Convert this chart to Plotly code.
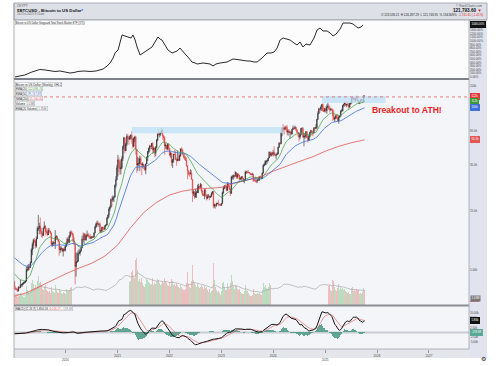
import numpy as np
import pandas as pd
import plotly.graph_objects as go

W, H = 500, 366
def px(x): return x / W
def py(y): return 1 - y / H

# ---------------- data ----------------
week_start = "2019-01-07"
first_open_k = 4.05

close_k = (
    [3.55,3.54,3.53,3.41,3.66,3.62,3.82,3.85,3.89,3.99,3.99,4.10,5.05,5.07,5.30,5.27,5.75,7.25,8.00,8.70,8.55,7.80,8.90,10.8,10.8,11.3,10.2,9.8,9.5,10.8,11.3,10.2,10.1,9.6,10.4,10.3,9.9,8.05,8.2,8.3,8.2,9.2,9.3,8.8,8.5,7.3,7.4,7.5,7.1,7.4,7.2,7.75]
  + [8.18,8.90,8.35,9.35,10.15,9.90,9.65,8.55,8.05,5.35,5.82,5.88,6.78,6.90,7.12,7.55,8.90,8.75,9.67,8.72,9.45,9.67,9.34,9.30,9.00,9.07,9.30,9.20,9.93,11.1,11.68,11.9,11.68,11.7,10.25,10.33,11.08,10.73,10.67,11.38,11.5,13.03,13.8,15.48,15.97,18.4,18.2,19.15,19.27,23.85,26.5,33.0]
  + [38.2,36.0,32.3,33.1,39.0,48.6,57.5,45.2,51.0,59.0,57.4,55.8,58.9,60.0,56.2,49.0,56.6,58.2,46.4,34.7,35.7,35.8,39.1,35.5,34.7,35.3,33.8,31.8,35.4,39.9,44.6,47.0,49.3,48.9,51.8,46.0,47.3,43.2,48.2,54.9,61.5,61.0,61.3,63.3,65.5,59.7,57.3,49.4,50.1,46.7,50.8,47.3]
  + [41.8,43.1,36.3,38.2,42.4,42.2,38.4,37.7,38.8,37.8,41.3,46.8,45.8,42.2,40.4,39.5,37.7,34.3,31.3,29.4,29.4,29.9,26.6,20.6,21.0,19.3,20.8,20.8,22.6,23.3,23.2,24.3,21.5,20.0,19.8,21.8,20.1,18.8,19.3,19.4,19.2,19.6,20.6,21.3,16.3,16.7,16.5,17.1,17.1,16.8,16.8,16.5]
  + [17.1,20.9,22.7,23.8,23.3,21.8,24.6,23.5,22.2,20.6,27.9,27.9,28.5,28.3,30.3,27.8,29.2,28.9,26.8,27.1,28.1,27.2,25.8,26.5,30.5,30.6,30.3,30.3,29.9,29.3,29.1,29.4,26.1,26.1,25.9,25.8,26.5,26.2,28.0,27.9,27.1,29.9,34.5,35.0,37.1,37.4,37.5,39.5,44.0,41.4,43.0,42.3]
  + [43.9,41.7,41.6,42.0,42.6,48.3,52.1,51.7,63.1,68.9,68.4,67.2,69.6,69.4,63.4,64.9,63.4,63.8,61.5,67.0,68.5,67.8,69.6,66.6,63.2,62.7,58.0,60.8,68.2,68.2,58.2,58.7,58.9,64.2,57.3,54.8,59.1,63.6,65.6,62.8,62.8,69.0,68.4,69.3,80.4,89.8,97.8,97.2,101.2,106.1,95.2,93.7,98.3]
  + [94.5,101.3,102.6,97.7,96.5,97.5,96.3,86.1,80.7,82.6,86.1,82.4,78.4,83.7,85.2,93.7,94.3,104.6,106.5,109.0,104.6,105.7,105.5,100.9,108.4,109.2,119.1,117.3,119.4,114.2,119.3,117.4,113.5,108.3,111.1,115.3,115.3,112.2,123.5,121.8]
)
high_k = (
    [4.10,3.72,3.62,3.56,3.72,3.70,4.20,3.90,3.97,4.02,4.10,4.15,5.35,5.47,5.61,5.60,5.90,7.50,8.35,8.95,9.08,8.80,9.30,11.2,13.85,12.0,13.2,10.9,10.2,11.0,12.3,11.5,10.95,10.6,10.9,10.9,10.3,10.1,8.5,8.6,8.4,10.5,9.55,9.4,8.9,8.55,7.8,7.75,7.45,7.5,7.65,7.9]
  + [8.45,9.2,8.95,9.6,10.2,10.5,10.2,9.9,9.2,8.2,6.9,6.95,7.2,7.45,7.3,7.75,9.45,10.05,9.95,9.9,9.6,10.4,9.95,9.6,9.8,9.35,9.4,9.25,10.0,11.4,12.05,12.45,12.45,11.8,12.1,10.55,11.15,11.1,10.95,11.45,11.7,13.35,14.0,15.95,16.5,18.8,19.5,19.9,19.4,24.3,28.3,34.8]
  + [41.9,40.1,37.8,38.5,40.9,49.7,58.3,57.5,52.4,61.7,61.0,58.4,60.0,61.2,64.9,56.8,57.9,59.5,59.6,46.4,40.4,39.3,41.3,41.0,36.0,36.6,35.0,34.5,35.6,40.9,45.0,48.1,50.5,50.0,52.0,52.9,48.8,47.5,49.2,56.1,62.9,67.0,63.7,64.3,69.0,66.5,59.4,59.0,51.9,50.1,51.9,52.1]
  + [47.5,44.4,43.5,38.9,42.6,45.8,44.7,39.8,45.4,42.5,42.3,47.0,48.2,47.0,41.5,42.9,40.8,40.0,34.2,31.4,30.6,32.2,31.6,26.9,21.8,21.5,22.5,21.5,24.2,24.6,23.6,25.0,24.4,21.8,20.5,22.5,22.7,19.7,20.2,20.4,19.9,19.7,21.0,21.5,21.4,17.1,16.8,17.4,17.4,18.4,17.0,16.9]
  + [17.2,21.3,23.4,23.9,24.3,23.4,25.3,25.2,23.9,22.6,28.4,28.9,29.2,28.8,31.0,30.5,30.0,29.8,29.0,27.6,28.2,28.4,27.3,26.8,31.4,31.0,31.4,31.8,30.4,29.8,29.7,30.1,29.5,26.8,28.1,26.0,27.0,27.5,28.1,28.6,27.9,30.3,35.2,35.9,37.9,37.9,38.4,39.7,44.7,44.0,44.4,43.8]
  + [45.9,49.0,43.6,42.8,43.9,48.6,52.8,52.9,64.0,69.2,73.8,68.9,71.7,71.3,72.8,66.9,67.2,64.7,65.5,67.5,71.9,70.0,71.9,70.2,66.9,63.4,63.8,61.4,68.3,69.4,70.0,62.7,61.8,65.0,64.5,59.8,60.6,64.1,66.5,65.0,64.4,69.5,69.4,73.6,81.5,93.5,99.6,98.7,104.0,106.5,108.3,99.9,98.9]
  + [102.7,106.4,109.6,106.4,102.5,98.8,99.5,96.5,95.0,84.5,87.4,88.8,88.5,86.1,86.5,95.8,97.9,104.9,107.1,111.9,110.7,106.8,110.5,108.9,108.5,110.6,119.5,123.2,120.2,119.3,119.5,124.5,117.6,113.5,113.3,116.8,117.9,115.3,125.7,126.2]
)
low_k = (
    [3.50,3.47,3.45,3.35,3.39,3.57,3.60,3.70,3.69,3.82,3.90,3.94,4.05,4.90,4.95,5.05,5.20,5.70,6.60,7.40,8.30,7.45,7.55,8.90,10.3,9.70,9.70,9.20,9.10,9.40,10.8,9.50,9.80,9.35,9.60,10.0,9.70,7.85,7.70,7.90,7.95,7.40,8.75,8.70,8.40,6.53,6.85,7.15,7.00,6.45,7.10,7.05]
  + [7.65,8.05,8.25,8.25,9.1,9.7,9.3,8.45,8.0,3.85,4.45,5.7,5.9,6.75,6.55,7.05,7.55,8.4,8.1,8.8,8.6,9.2,9.2,9.0,8.85,8.95,9.05,9.05,9.15,9.9,10.9,11.15,11.45,11.1,9.9,9.9,10.2,10.1,10.55,10.5,11.2,11.45,12.9,13.2,14.85,15.9,16.2,17.6,17.65,19.1,22.9,26.3]
  + [28.2,30.4,28.9,29.3,32.3,37.4,46.0,43.0,44.9,49.3,53.3,50.4,55.5,55.5,51.5,47.0,48.0,53.0,42.0,30.0,31.2,34.0,31.0,34.8,28.8,32.7,32.1,31.1,29.3,35.5,37.5,42.8,43.9,46.4,46.5,42.8,43.4,40.1,40.8,47.1,53.9,59.5,57.8,59.4,62.3,55.6,53.3,42.0,46.8,45.5,45.6,45.7]
  + [40.6,39.7,34.0,32.9,36.3,41.7,38.0,34.3,37.2,37.2,37.6,40.5,44.3,41.9,39.2,38.2,37.6,33.7,26.7,28.7,28.0,29.3,26.6,17.6,19.7,18.6,19.0,18.9,20.8,20.7,22.4,22.7,20.8,19.6,19.6,18.5,19.4,18.1,18.5,19.1,18.2,18.9,19.2,20.1,15.6,15.8,15.5,16.1,16.9,16.3,16.4,16.4]
  + [16.5,17.1,20.4,22.3,22.6,21.4,21.5,22.8,21.9,19.6,20.5,26.6,26.5,27.2,28.0,27.0,26.9,27.7,25.8,26.4,26.1,26.6,25.4,24.8,26.3,29.5,29.7,30.0,29.5,28.9,28.7,28.8,25.4,25.8,25.4,24.9,24.9,26.0,26.0,27.2,26.6,26.9,29.8,33.9,34.5,34.8,35.6,37.2,39.5,40.3,40.6,41.5]
  + [40.8,41.5,40.6,38.5,41.9,42.3,47.7,50.6,50.9,59.0,64.6,60.8,66.4,64.5,60.7,59.7,62.4,56.6,60.2,60.8,66.7,66.6,67.6,65.1,63.0,58.4,53.5,55.7,59.8,63.5,57.3,49.0,56.1,57.8,57.2,52.6,54.6,57.6,62.7,59.8,58.9,62.5,65.1,67.5,66.8,80.2,89.3,90.8,94.5,94.2,92.2,92.5,91.5]
  + [91.2,89.3,99.5,96.2,91.2,94.1,93.4,78.2,80.0,76.6,81.2,81.6,77.2,74.4,83.1,85.1,92.8,93.4,100.8,102.1,103.1,100.4,102.7,98.3,99.6,105.2,107.5,115.7,114.7,111.9,112.6,116.8,110.6,107.3,107.3,110.6,114.4,108.6,111.5,121.2]
)
volume_rel = (
    [22,20,18,17,19,18,24,20,18,17,16,19,38,30,26,24,28,45,50,42,35,40,34,48,58,44,46,38,32,30,36,40,30,28,26,28,25,36,28,26,24,40,30,26,24,32,28,24,22,26,24,22]
  + [32,30,28,30,34,36,32,38,34,62,48,40,36,32,30,30,40,46,42,36,30,32,28,26,24,22,22,20,26,44,38,36,32,28,34,28,26,24,22,26,28,36,38,44,42,48,50,46,40,52,60,70]
  + [82,72,60,55,62,75,80,78,60,62,55,50,46,48,66,70,58,55,90,95,70,48,52,46,54,44,38,36,42,52,50,46,44,40,42,55,40,44,42,48,52,50,44,40,42,46,44,54,48,44,40,38]
  + [46,38,52,48,40,42,38,44,40,36,34,40,36,32,30,30,32,44,66,42,36,34,48,80,50,44,40,36,42,38,34,36,40,36,32,38,34,36,30,26,32,24,28,30,85,50,36,30,26,28,24,20]
  + [28,44,46,36,30,30,44,36,32,45,60,48,38,32,40,38,32,30,32,26,24,22,22,28,40,30,28,24,20,18,18,20,32,24,22,22,24,22,24,22,20,30,44,36,40,34,32,36,44,40,36,28]
  + [34,48,30,32,28,40,44,32,56,58,62,52,40,34,46,40,32,42,34,36,32,28,30,28,30,34,42,34,40,30,38,56,34,32,30,34,30,28,26,24,26,32,28,34,54,62,56,44,46,44,52,40,34]
  + [36,42,40,38,40,30,28,50,48,36,30,28,34,42,30,36,32,34,30,32,28,26,24,26,22,22,34,36,28,30,28,32,30,30,22,24,22,26,34,30]
)

perf_dates = ["2019-01-11","2019-02-15","2019-03-21","2019-05-10","2019-06-07","2019-07-05","2019-08-10","2019-09-14","2019-10-19","2019-11-23",
              "2020-01-05","2020-02-02","2020-03-01","2020-03-29","2020-05-11","2020-06-22","2020-08-04","2020-09-22","2020-10-20","2020-11-10",
              "2020-12-01","2020-12-15","2021-01-05","2021-01-19","2021-02-02","2021-02-23","2021-03-16","2021-04-06","2021-04-20","2021-05-05",
              "2021-05-19","2021-06-09","2021-06-30","2021-07-28","2021-08-18","2021-09-01","2021-09-22","2021-10-13","2021-10-27","2021-11-10",
              "2021-12-01","2021-12-22","2022-01-20","2022-02-10","2022-02-24","2022-03-17","2022-04-07","2022-04-28","2022-05-12","2022-06-09",
              "2022-07-01","2022-07-15","2022-08-05","2022-08-26","2022-09-23","2022-10-14","2022-11-04","2022-11-25","2022-12-24","2023-01-21",
              "2023-02-11","2023-03-04","2023-03-25","2023-04-22","2023-05-13","2023-06-10","2023-07-01","2023-07-22","2023-08-19","2023-09-10",
              "2023-10-01","2023-10-15","2023-11-05","2023-11-19","2023-12-17","2024-01-08","2024-01-29","2024-02-19","2024-03-11","2024-04-08",
              "2024-04-29","2024-05-27","2024-06-17","2024-07-08","2024-07-29","2024-08-19","2024-09-16","2024-10-15","2024-11-05","2024-11-26",
              "2024-12-17","2025-01-15","2025-02-05","2025-02-26","2025-03-19","2025-04-16","2025-05-07","2025-06-04","2025-06-25","2025-07-16",
              "2025-08-06","2025-08-20","2025-09-10","2025-09-25"]
perf_pct = [0,28,56,139,181,209,195,175,153,167,
            139,111,125,153,167,153,167,222,306,389,
            528,667,751,973,1168,1140,1112,1084,1168,1029,
            834,612,667,751,806,834,973,1112,1056,1029,
            890,751,667,695,723,806,695,612,556,417,
            389,361,375,389,375,361,306,361,389,403,
            417,459,500,487,473,445,445,445,417,417,
            473,528,612,667,667,695,806,1029,1084,1056,
            1029,945,890,973,834,917,890,1084,1307,1362,
            1279,1279,1223,1140,1195,1335,1501,1501,1501,1473,
            1418,1362,1390,1446]

sma200_dates = ["2019-01-07","2019-04-01","2019-07-01","2019-10-07","2020-01-06","2020-04-06","2020-07-06","2020-10-05",
                "2021-01-04","2021-04-05","2021-07-05","2021-10-04","2022-01-03","2022-04-04","2022-07-04","2022-10-03",
                "2023-01-02","2023-04-03","2023-07-03","2023-10-02","2024-01-01","2024-04-01","2024-07-01","2024-10-07",
                "2025-01-06","2025-04-07","2025-07-07","2025-10-06"]
sma200_k = [3.1,3.3,3.7,4.2,4.7,5.2,5.7,6.5,8.0,11.0,14.5,17.5,20.0,21.5,22.3,22.6,
            23.0,24.8,26.5,28.0,31.0,34.0,37.0,40.5,45.0,49.0,52.5,55.2]

zone_dates = [["2021-04-12", "2024-03-11"], ["2024-12-09", "2026-03-02"]]
zone_low_k = [62.5, 109.0]
zone_high_k = [70.0, 124.0]

ema20_start, ema50_start = 4800.0, 6400.0
ema12_start, ema26_start, signal_start = 4300.0, 5000.0, -800.0

year_ticks = ["2020-01-01","2021-01-01","2022-01-01","2023-01-01","2024-01-01","2025-01-01","2026-01-01","2027-01-01"]
year_labels = ["<br>2020","2021","2022","2023","2024","<br>2025","2026","2027"]
perf_ticks = [0,100,200,300,400,500,600,700,800,900,1000,1100,1200,1300,1500]
price_ticks = [5000, 15000, 35000, 65000, 150000]
price_labels = ["5.00k", "15.0k", "35.0k", "65.0k", "150k"]
macd_ticks = [-5000, -2500, 2500, 7500, 10000]
macd_labels = ["-5.00k", "-2.50k", "2.50k", "7.50k", "10.00k"]

n = len(close_k)
assert len(high_k) == n and len(low_k) == n and len(volume_rel) == n, (n, len(high_k), len(low_k), len(volume_rel))
assert len(perf_dates) == len(perf_pct) and len(sma200_dates) == len(sma200_k)

# ---------------- derived series ----------------
dates = pd.date_range(week_start, periods=n, freq="7D")
close = np.array(close_k) * 1000
open_ = np.concatenate([[first_open_k * 1000], close[:-1]])
high = np.maximum(np.array(high_k) * 1000, np.maximum(open_, close))
low = np.minimum(np.array(low_k) * 1000, np.minimum(open_, close))
vol = np.array(volume_rel, dtype=float)

def ema(values, span, seed):
    a = 2.0 / (span + 1)
    out, prev = [], seed
    for v in values:
        prev = prev + a * (v - prev)
        out.append(prev)
    return np.array(out)

ema20 = ema(close, 20, ema20_start)
ema50 = ema(close, 50, ema50_start)
vol_ema = ema(vol, 20, vol[0])
macd = ema(close, 12, ema12_start) - ema(close, 26, ema26_start)
signal = ema(macd, 9, signal_start)
hist = macd - signal
up = close >= open_

X0, X1 = "2019-01-04", "2027-10-10"
FONT = "Liberation Sans, Arial, sans-serif"
GREEN, BLUE, RED = "#3c9a3c", "#3f6fd8", "#e45555"

fig = go.Figure()

fig.add_trace(go.Scatter(x=perf_dates, y=perf_pct, mode="lines", line=dict(color="#111", width=0.9),
                         xaxis="x", yaxis="y", hoverinfo="skip", showlegend=False))

fig.add_trace(go.Bar(x=dates, y=vol, width=5 * 86400000,
                     marker=dict(color=["rgba(120,190,120,0.45)" if u else "rgba(236,120,120,0.45)" for u in up], line=dict(width=0)),
                     xaxis="x", yaxis="y2", hoverinfo="skip", showlegend=False))
fig.add_trace(go.Scatter(x=dates, y=vol_ema, mode="lines", line=dict(color="#aaa", width=0.7),
                         xaxis="x", yaxis="y2", hoverinfo="skip", showlegend=False))

for (d0, d1), lo, hi in zip(zone_dates, zone_low_k, zone_high_k):
    fig.add_trace(go.Scatter(x=[d0, d1, d1, d0, d0], y=[lo * 1000, lo * 1000, hi * 1000, hi * 1000, lo * 1000],
                             fill="toself", fillcolor="rgba(190,225,245,0.75)", mode="lines", line=dict(width=0),
                             xaxis="x", yaxis="y4", hoverinfo="skip", showlegend=False))

fig.add_trace(go.Scatter(x=[X0, X1], y=[close[-1], close[-1]], mode="lines",
                         line=dict(color="#e84848", width=0.7, dash="dot"),
                         xaxis="x", yaxis="y4", hoverinfo="skip", showlegend=False))

fig.add_trace(go.Scatter(x=sma200_dates, y=np.array(sma200_k) * 1000, mode="lines", line=dict(color=RED, width=0.8),
                         xaxis="x", yaxis="y4", hoverinfo="skip", showlegend=False))
fig.add_trace(go.Scatter(x=dates, y=ema50, mode="lines", line=dict(color=BLUE, width=0.8),
                         xaxis="x", yaxis="y4", hoverinfo="skip", showlegend=False))
fig.add_trace(go.Scatter(x=dates, y=ema20, mode="lines", line=dict(color=GREEN, width=0.7),
                         xaxis="x", yaxis="y4", hoverinfo="skip", showlegend=False))

fig.add_trace(go.Candlestick(x=dates, open=open_, high=high, low=low, close=close,
                             increasing=dict(line=dict(color="#222", width=0.6), fillcolor="#555"),
                             decreasing=dict(line=dict(color="#e33a3a", width=0.6), fillcolor="#e33a3a"),
                             whiskerwidth=0, xaxis="x", yaxis="y4", hoverinfo="skip", showlegend=False))

fig.add_trace(go.Bar(x=dates, y=hist, width=7 * 86400000, marker=dict(color="rgba(72,150,128,0.85)", line=dict(width=0)),
                     xaxis="x", yaxis="y3", hoverinfo="skip", showlegend=False))
fig.add_trace(go.Scatter(x=dates, y=signal, mode="lines", line=dict(color="#e07070", width=0.7),
                         xaxis="x", yaxis="y3", hoverinfo="skip", showlegend=False))
fig.add_trace(go.Scatter(x=dates, y=macd, mode="lines", line=dict(color="#111", width=1.0),
                         xaxis="x", yaxis="y3", hoverinfo="skip", showlegend=False))

# ---------------- shapes ----------------
def rect(x0, y0, x1, y1, fill, line_color=None, lw=0):
    return dict(type="rect", xref="paper", yref="paper", x0=px(x0), x1=px(x1), y0=py(y1), y1=py(y0),
                fillcolor=fill, line=dict(color=line_color or fill, width=lw), layer="below")

def hline(x0, x1, y, color, w):
    return dict(type="line", xref="paper", yref="paper", x0=px(x0), x1=px(x1), y0=py(y), y1=py(y),
                line=dict(color=color, width=w), layer="above")

def vline(x, y0, y1, color, w):
    return dict(type="line", xref="paper", yref="paper", x0=px(x), x1=px(x), y0=py(y0), y1=py(y1),
                line=dict(color=color, width=w), layer="above")

shapes = [
    rect(14, 3, 487, 20, "#dde0e7", "#9a9da5", 0.8),
    rect(469, 20, 487, 358, "#e1e4ee"),
    rect(14, 20, 469, 78, "#fcfcfd"),
    rect(14, 80, 469, 305, "#f3f5f9"),
    rect(14, 306, 469, 349, "#f4f5f9"),
    rect(14, 349, 469, 358, "#e4e6ec"),
    hline(14, 487, 20, "#9a9da5", 0.8),
    hline(14, 469, 79, "#7d8088", 2),
    hline(14, 469, 305.5, "#8a8d94", 2),
    hline(14, 469, 349, "#a0a3aa", 0.8),
    vline(14, 3, 358, "#9a9da5", 0.8),
    vline(469, 20, 349, "#a0a3aa", 0.8),
    dict(type="line", xref="x", yref="y3", x0=X0, x1=X1, y0=0, y1=0, line=dict(color="#c8ccd4", width=2), layer="below"),
    hline(470, 479, 301.2, "#e33a3a", 1),
]

# ---------------- annotations ----------------
ann = []
def txt(x, y, s, size, color="#222", xanchor="left", bold=False, **kw):
    if bold:
        s = "<b>" + s + "</b>"
    ann.append(dict(x=px(x), y=py(y), xref="paper", yref="paper", text=s, showarrow=False,
                    xanchor=xanchor, yanchor="middle", font=dict(size=size, color=color, family=FONT), **kw))

def box(x, y, s, size=2.9, color="#222"):
    txt(x, y, s, size, color, bgcolor="rgba(255,255,255,0.95)", bordercolor="#9a9da5", borderwidth=0.4, borderpad=0.3)

txt(15, 5.8, "CKYPT", 3.2, "#555")
txt(15, 10, "$BTCUSD - Bitcoin to US Dollar", 4.3, "#111", bold=True)
txt(79, 10, "●", 3.8, "#3b82f6")
txt(15, 14.5, "10-Oct-2025 9:11am", 3.0, "#666")
txt(484, 5.6, "© StockCharts.com", 3.0, "#555", xanchor="right")
txt(484, 10, "121,793.60 <span style='color:#e02020'>▼</span>", 4.6, "#111", xanchor="right", bold=True)
txt(485, 15.5, "O 123,533.21  H 126,287.29  L 121,743.95  % 134.809%  "
               "<span style='color:#e02020'>-1,741.61 (-1.41%)</span>", 3.0, "#222", xanchor="right")

box(15, 22.3, "Bitcoin to US Dollar:Vanguard Total Stock Market ETF (VTI)", 2.6)
box(15, 84, "Bitcoin to US Dollar (Weekly) OHLC")
box(15, 89, f"EMA(20) <span style='color:{GREEN}'>{ema20[-1]:,.2f}</span>")
box(15, 93.5, f"EMA(50) <span style='color:{BLUE}'>{ema50[-1]:,.2f}</span>")
box(15, 98.3, f"SMA(200) <span style='color:{RED}'>{sma200_k[-1] * 1000:,.2f}</span>")
box(15, 103.3, "Volume <span style='color:#666'>1.03M</span>")
box(15, 108.6, "EMA(20 Volume) <span style='color:#666'>1.35M</span>")
box(15, 308.6, f"MACD(12,26,9) {macd[-1]:,.2f}, <span style='color:#e05050'>{signal[-1]:,.2f}</span>, "
               f"<span style='color:#777'>{hist[-1]:,.2f}</span>")

txt(407, 110, "Breakout to ATH!", 8.6, "#ec1c24", xanchor="center", bold=True)

def vbox(yref, y, s, bg, fg="white", size=2.9):
    ann.append(dict(x=px(470), y=y, xref="paper", yref=yref, text=s, showarrow=False, xanchor="left", yanchor="middle",
                    bgcolor=bg, bordercolor=bg, borderpad=0.4, font=dict(size=size, color=fg, family=FONT)))

vbox("y", perf_pct[-1], f"{perf_pct[-1]:.2f}%", "#111")
vbox("y4", np.log10(close[-1]), f"{close[-1] / 1000:.0f}k", "#e33a3a")
vbox("y4", np.log10(ema20[-1]), f"{ema20[-1] / 1000:.0f}k", GREEN)
vbox("y4", np.log10(ema50[-1]), f"{ema50[-1] / 1000:.0f}k", BLUE)
vbox("y4", np.log10(sma200_k[-1] * 1000), f"{sma200_k[-1]:.1f}k", RED)
vbox("y3", macd[-1], f"{macd[-1] / 1000:.2f}k", "#111")
vbox("y3", hist[-1], f"{hist[-1]:,.2f}", "#5aa896")
ann.append(dict(x=px(470), y=py(298.5), xref="paper", yref="paper", text="1.03M", showarrow=False, xanchor="left",
                yanchor="middle", bgcolor="#777", borderpad=0.4, font=dict(size=2.9, color="white", family=FONT)))
txt(483, 358.5, "⚙", 5.5, "#222", xanchor="center")

# ---------------- layout ----------------
axis_font = dict(size=2.9, color="#444", family=FONT)
fig.update_layout(
    width=W, height=H, margin=dict(l=0, r=0, t=0, b=0),
    paper_bgcolor="white", plot_bgcolor="rgba(0,0,0,0)",
    font=dict(family=FONT), showlegend=False, hovermode=False, bargap=0,
    xaxis=dict(domain=[px(14), px(469)], range=[X0, X1], anchor="y3", type="date",
               tickvals=year_ticks, ticktext=year_labels, ticks="outside", ticklen=3, tickcolor="#999",
               tickfont=dict(size=3.1, color="#444", family=FONT), showgrid=False, zeroline=False, showline=False,
               rangeslider=dict(visible=False)),
    yaxis=dict(domain=[py(78), py(20)], range=[-28, 1585], anchor="x", side="right",
               tickvals=perf_ticks, ticktext=[f"{v:.2f}%" for v in perf_ticks],
               tickfont=axis_font, showgrid=False, zeroline=False, ticks=""),
    yaxis2=dict(domain=[py(305), py(80)], range=[0, 450], anchor="x", visible=False, fixedrange=True),
    yaxis4=dict(overlaying="y2", type="log", range=[3.421, 5.221], anchor="x", side="right",
                tickvals=price_ticks, ticktext=price_labels, tickfont=axis_font,
                showgrid=False, zeroline=False, ticks=""),
    yaxis3=dict(domain=[py(349), py(306)], range=[-8500, 13500], anchor="x", side="right",
                tickvals=macd_ticks, ticktext=macd_labels, tickfont=axis_font,
                showgrid=False, zeroline=False, ticks=""),
    shapes=shapes, annotations=ann,
)

fig.write_html("out.html", config={"displayModeBar": False, "staticPlot": True},
               post_script="document.body.style.margin='0';document.body.style.overflow='hidden';")
